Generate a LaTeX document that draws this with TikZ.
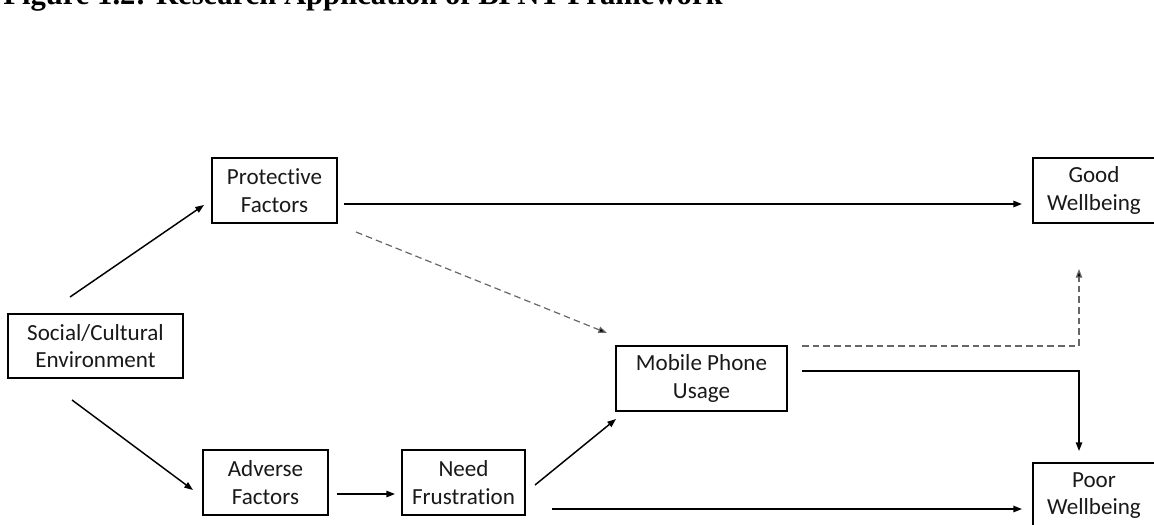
\documentclass[tikz,border=0pt]{standalone}
\usepackage{fontspec}
\setmainfont{Carlito}[Ligatures=NoCommon]
\newfontfamily\titlefont{Liberation Serif}
\usetikzlibrary{arrows.meta}
\begin{document}
\begin{tikzpicture}[x=0.75pt,y=-0.75pt,
  box/.style={draw=black,line width=2pt,inner sep=0pt,align=center,
    font=\fontsize{17.3pt}{20.5pt}\selectfont,text=black!90},
  arr/.style={line width=1.1pt,-{Triangle[length=6.5pt,width=4.8pt]}},
  darr/.style={line width=0.9pt,draw=black!60,dash pattern=on 5pt off 3pt,
    -{Triangle[length=6.5pt,width=4.8pt,fill=black]}}]
\useasboundingbox (0,0) rectangle (1154,525);
\clip (0,0) rectangle (1154,525);
\node[anchor=base west,inner sep=0pt,font=\titlefont\bfseries\fontsize{23pt}{27pt}\selectfont] (title) at (3,4) {Figure 1.2: Research Application of BPNT Framework};

\node[box,minimum width=175*0.75pt,minimum height=64*0.75pt] (soc) at (95.5,346) {Social/Cultural\\Environment};
\node[box,minimum width=125*0.75pt,minimum height=65*0.75pt] (prot) at (274.5,190.5) {Protective\\Factors};
\node[box,minimum width=171*0.75pt,minimum height=65*0.75pt] (mob) at (701.5,378.5) {Mobile Phone\\Usage};
\node[box,minimum width=125*0.75pt,minimum height=65*0.75pt] (adv) at (265.5,482.5) {Adverse\\Factors};
\node[box,minimum width=123*0.75pt,minimum height=65*0.75pt] (need) at (463.5,482.5) {Need\\Frustration};
\node[box,minimum width=122*0.75pt,minimum height=65*0.75pt] (good) at (1094,190.5) {Good\\Wellbeing};
\node[box,minimum width=122*0.75pt,minimum height=65*0.75pt] (poor) at (1094,495.5) {Poor\\Wellbeing};

\coordinate (s1) at (70,297);   \coordinate (p1) at (204,205);
\coordinate (s2) at (72,400);   \coordinate (a1) at (193,490);
\coordinate (p2) at (344,204);  \coordinate (g1) at (1022,204);
\coordinate (p3) at (356,232);  \coordinate (m1) at (607,333);
\coordinate (a2) at (337,494);  \coordinate (n1) at (395,494);
\coordinate (n2) at (535,485);  \coordinate (m2) at (616,419);
\coordinate (n3) at (552,509);  \coordinate (q1) at (1022,509);
\coordinate (m3) at (802,346);  \coordinate (g2) at (1079,269);
\coordinate (m4) at (802,371);  \coordinate (q2) at (1079,451);

\draw[arr] (s1) -- (p1);
\draw[arr] (s2) -- (a1);
\draw[arr] (p2) -- (g1);
\draw[darr] (p3) -- (m1);
\draw[arr] (a2) -- (n1);
\draw[arr] (n2) -- (m2);
\draw[arr] (n3) -- (q1);
\draw[darr] (m3) -| (g2);
\draw[arr] (m4) -| (q2);
\end{tikzpicture}
\end{document}
